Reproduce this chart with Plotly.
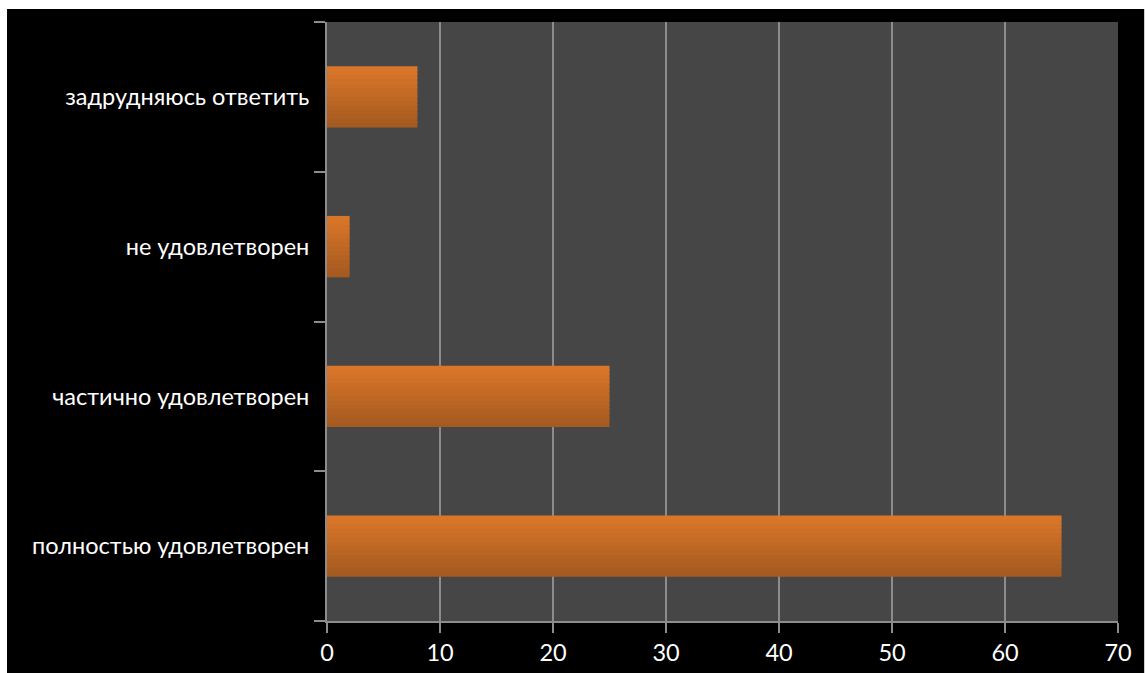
import plotly.graph_objects as go

categories = ["полностью удовлетворен", "частично удовлетворен", "не удовлетворен", "задрудняюсь ответить"]
values = [65, 25, 2, 8]
x_ticks = [0, 10, 20, 30, 40, 50, 60, 70]

top_rgb = (218, 118, 41)
bot_rgb = (165, 90, 32)
n_strips = 14
bar_w = 0.41

fig = go.Figure()
step = bar_w / n_strips
for i in range(n_strips):
    t = i / (n_strips - 1)
    c = tuple(round(bot_rgb[k] + (top_rgb[k] - bot_rgb[k]) * t) for k in range(3))
    fig.add_trace(go.Bar(
        x=values, y=categories, orientation="h",
        offset=-bar_w / 2 + i * step,
        width=step * 1.25 if i < n_strips - 1 else step,
        marker=dict(color="rgb(%d,%d,%d)" % c, line=dict(width=0)),
        showlegend=False, hoverinfo="x+y",
    ))

fig.update_layout(
    width=1137, height=665,
    margin=dict(l=320, r=26, t=13, b=53),
    paper_bgcolor="#000000", plot_bgcolor="#464646",
    barmode="overlay",
    font=dict(family="Lato, Carlito, sans-serif", size=23.5, color="#ffffff"),
    xaxis=dict(range=[0, 70], tickvals=x_ticks, showgrid=True, gridcolor="#8c8c8c", gridwidth=2,
               showline=True, linecolor="#8c8c8c", linewidth=2, ticks="outside", ticklen=10,
               tickcolor="#8c8c8c", tickwidth=2, zeroline=False, fixedrange=True, automargin=False),
    yaxis=dict(type="category", categoryorder="array", categoryarray=categories,
               showgrid=False, showline=True, linecolor="#8c8c8c", linewidth=2,
               ticks="outside", ticklen=11, tickcolor="#8c8c8c", tickwidth=2, tickson="boundaries",
               ticklabelstandoff=11, fixedrange=True, automargin=False),
)

fig.write_html("out.html", post_script=(
    "document.body.style.overflow='hidden';"
    "document.body.style.margin='9px 0 0 7px';"
    "var d=document.querySelector('.plotly-graph-div');"
    "d.style.outline='1px solid #cfcfcf';"
))
